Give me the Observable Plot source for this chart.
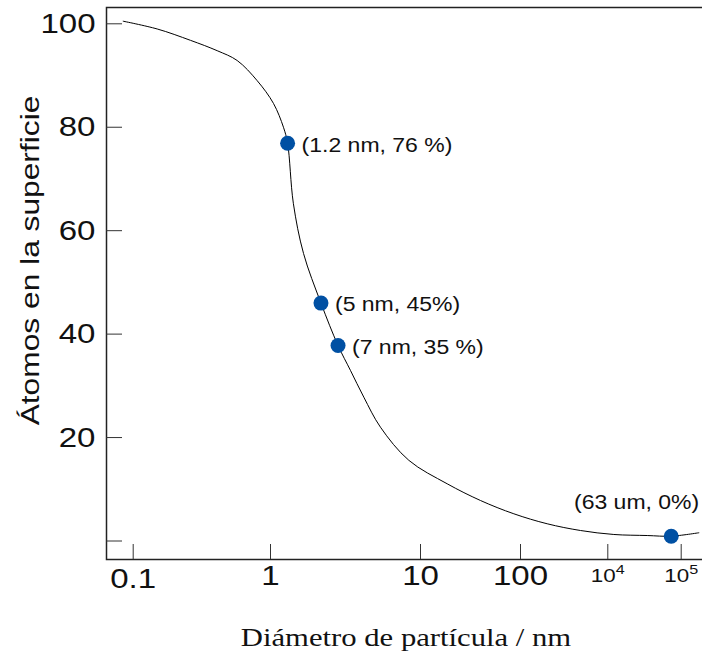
<!DOCTYPE html>
<html><head><meta charset="utf-8">
<script src="https://cdn.jsdelivr.net/npm/d3@7"></script>
<script src="https://cdn.jsdelivr.net/npm/@observablehq/plot@0.6"></script>
<style>body{margin:0;background:#fff} svg{display:block}</style>
</head><body><div id="chart"></div>
<script>
// curve (diameter in nm on the figure's own axis, % atoms at surface)
const curveDiameter = [0.0846,0.1496,0.2615,0.409,0.572,0.80,1.047,1.22,1.30,1.42,1.66,2.17,2.82,3.41,4.19,5.41,8.36,18.5,39.8,85.8,409,2371,12070,34430,73100,173800];
const curvePercent  = [100.5,99.0,96.8,94.8,92.9,89.0,84.6,80.0,76.9,65.3,55.6,46.0,37.8,33.0,27.8,22.0,15.6,11.06,7.83,5.26,3.33,2.03,1.26,1.06,0.93,1.59];
// marked points
const pointDiameter = [1.30, 2.17, 2.82, 73100];
const pointPercent  = [76.9, 46.0, 37.8, 0.93];
const pointLabels   = ["(1.2 nm, 76 %)", "(5 nm, 45%)", "(7 nm, 35 %)", "(63 um, 0%)"];
// axes
const xBreaks = [0.1, 1, 10, 100, 1e4, 1e5];
const xTicksLarge = [1, 10, 100];
const xTicksSmall = [0.1];
const xTicksPow = [1e4, 1e5];
const xPowBase = "10";
const xPowExponents = ["4", "5"];
const yTicks = [0, 20, 40, 60, 80, 100];
const yTickLabels = [20, 40, 60, 80, 100];
const xTitle = "Diámetro de partícula / nm";
const yTitle = "Átomos en la superficie";

const curve = curveDiameter.map((d, i) => ({d, p: curvePercent[i]}));
const points = pointDiameter.map((d, i) => ({d, p: pointPercent[i], label: pointLabels[i]}));

const W = 702, H = 652, mL = 106, mT = 7, mB = 93, mR = -3;
const frameW = W - mL - mR, frameH = H - mT - mB;

const chart = Plot.plot({
  width: W, height: H,
  marginLeft: mL, marginTop: mT, marginBottom: mB, marginRight: mR,
  style: {fontFamily: "Liberation Sans, Arial, sans-serif", background: "#fff", overflow: "hidden", color: "#111"},
  x: {type: "log", domain: xBreaks, range: [132.7, 270, 420, 520, 607.3, 680.7]},
  y: {domain: [0, 100], range: [540.5, 23.3]},
  marks: [
    Plot.frame({stroke: "#222", strokeWidth: 1.5}),
    Plot.tickY(yTicks, {y: d => d, insetRight: frameW - 16, stroke: "#333"}),
    Plot.tickX(xBreaks, {x: d => d, insetTop: frameH - 15, stroke: "#333"}),
    Plot.line(curve, {x: "d", y: "p", curve: "catmull-rom", stroke: "#000", strokeWidth: 1}),
    Plot.dot(points, {x: "d", y: "p", r: 7.5, fill: "#0050a3"}),
    Plot.text(points.slice(0, 3), {x: "d", y: "p", text: "label", textAnchor: "start", dx: 14, dy: 2, fontSize: 19.5, fill: "#111"}),
    Plot.text(points.slice(3), {x: "d", y: "p", text: "label", textAnchor: "end", dx: 28, dy: -33, fontSize: 19.5, fill: "#111"}),
    Plot.axisY({ticks: yTickLabels, tickSize: 0, tickPadding: 11, fontSize: 28, label: null}),
    Plot.axisY({ticks: [], label: yTitle, labelAnchor: "center", labelArrow: "none", labelOffset: 86, fontSize: 26}),
    Plot.axisX({ticks: xTicksLarge, tickFormat: d => String(d), tickSize: 0, tickPadding: 6, fontSize: 28, label: null}),
    Plot.axisX({ticks: xTicksSmall, tickFormat: d => String(d), tickSize: 0, tickPadding: 9, fontSize: 28, label: null}),
    Plot.axisX({ticks: xTicksPow, tickFormat: d => xPowBase + "^" + xPowExponents[xTicksPow.indexOf(d)], tickSize: 0, tickPadding: 9, fontSize: 19, label: null}),
    Plot.axisX({ticks: [], label: xTitle, labelAnchor: "center", labelArrow: "none", labelOffset: 86, fontSize: 26, fontFamily: "Liberation Serif, Times New Roman, serif"})
  ]
});

const stretch = (t, k) => t.setAttribute("transform", (t.getAttribute("transform") || "") + ` scale(${k},1)`);
chart.querySelectorAll("g[aria-label]").forEach(g => {
  const lab = g.getAttribute("aria-label");
  g.querySelectorAll("text").forEach(t => {
    if (/label$/.test(lab) && !/tick/.test(lab)) {
      // axis titles: drop any arrow, stretch like the reference
      t.textContent = t.textContent.replace(/\s*[↑↓→←]\s*/g, "");
      if (/^y/.test(lab)) {
        t.setAttribute("transform", "translate(0,-23) " + (t.getAttribute("transform") || ""));
        stretch(t, 1.22);
      } else stretch(t, 1.18);
      return;
    }
    if (!/tick label|^text$/.test(lab)) return;
    const m = /^(\d+)\^(\d+)$/.exec(t.textContent);
    if (m) {
      t.textContent = m[1];
      const s = document.createElementNS("http://www.w3.org/2000/svg", "tspan");
      s.setAttribute("font-size", "0.72em");
      s.setAttribute("dy", "-0.6em");
      s.textContent = m[2];
      t.appendChild(s);
    }
    stretch(t, 1.18);
  });
});
document.getElementById("chart").appendChild(chart);
</script>
</body></html>
